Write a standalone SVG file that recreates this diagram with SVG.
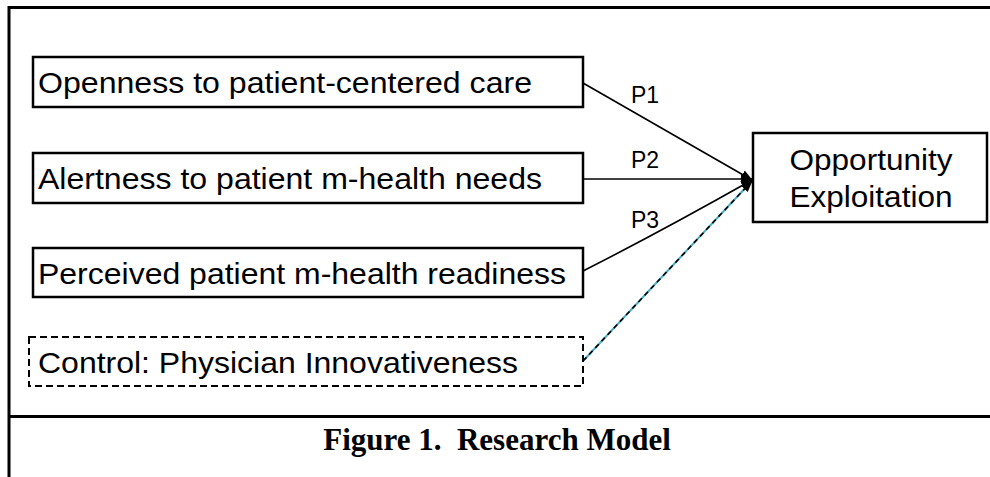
<svg xmlns="http://www.w3.org/2000/svg" width="990" height="477" viewBox="0 0 990 477">
<style>
.box{fill:#fff;stroke:#000;stroke-width:2.5}
.dbox{fill:#fff;stroke:#000;stroke-width:2;stroke-dasharray:7,4}
.t{font-family:"Liberation Sans",Arial,sans-serif;font-size:30px;fill:#000}
.p{font-family:"Liberation Sans",Arial,sans-serif;font-size:23px;fill:#000}
.conn{fill:none;stroke:#000;stroke-width:1.6}
.frame{stroke:#000;stroke-width:3;fill:none}
.cap{font-family:"Liberation Serif","Times New Roman",serif;font-size:31px;font-weight:bold;fill:#000}
</style>
<defs>
<marker id="ah" markerUnits="userSpaceOnUse" markerWidth="12" markerHeight="12" viewBox="0 0 12 12" refX="11" refY="6" orient="auto">
<path d="M0,1.5 L12,6 L0,10.5 Z" fill="#000"/>
</marker>
</defs>
<g id="frame">
<line class="frame" x1="9" y1="7.5" x2="990" y2="7.5"/>
<line class="frame" x1="9" y1="6" x2="9" y2="477"/>
<line class="frame" x1="9" y1="416.5" x2="990" y2="416.5"/>
</g>
<g id="connectors">
<line class="conn" x1="583" y1="83" x2="752" y2="180" marker-end="url(#ah)"/>
<line class="conn" x1="583" y1="179" x2="752" y2="179" marker-end="url(#ah)"/>
<path class="conn" d="M583,271 Q660,232 752,180" marker-end="url(#ah)"/>
<line x1="583" y1="361" x2="751" y2="182" stroke="#4BACC6" stroke-width="2"/>
<line x1="583" y1="361" x2="752" y2="181" stroke="#000" stroke-width="1.6" stroke-dasharray="5,4" marker-end="url(#ah)"/>
<text class="p" x="631" y="103">P1</text>
<text class="p" x="631" y="168">P2</text>
<text class="p" x="631" y="228">P3</text>
</g>
<g id="n1">
<rect class="box" x="33" y="57" width="550" height="50"/>
<text class="t" x="38" y="93" textLength="494" lengthAdjust="spacingAndGlyphs">Openness to patient-centered care</text>
</g>
<g id="n2">
<rect class="box" x="33" y="153" width="550" height="50"/>
<text class="t" x="38" y="189" textLength="504" lengthAdjust="spacingAndGlyphs">Alertness to patient m-health needs</text>
</g>
<g id="n3">
<rect class="box" x="33" y="248" width="550" height="49"/>
<text class="t" x="38" y="284" textLength="528" lengthAdjust="spacingAndGlyphs">Perceived patient m-health readiness</text>
</g>
<g id="n4">
<rect class="dbox" x="29" y="337" width="554" height="49"/>
<text class="t" x="38" y="373" textLength="480" lengthAdjust="spacingAndGlyphs">Control: Physician Innovativeness</text>
</g>
<g id="n5">
<rect class="box" x="753" y="133" width="234" height="89"/>
<text class="t" x="871" y="170" text-anchor="middle" textLength="163" lengthAdjust="spacingAndGlyphs">Opportunity</text>
<text class="t" x="871" y="207" text-anchor="middle" textLength="163" lengthAdjust="spacingAndGlyphs">Exploitation</text>
</g>
<text class="cap" x="497" y="450" text-anchor="middle" xml:space="preserve">Figure 1.  Research Model</text>
</svg>
